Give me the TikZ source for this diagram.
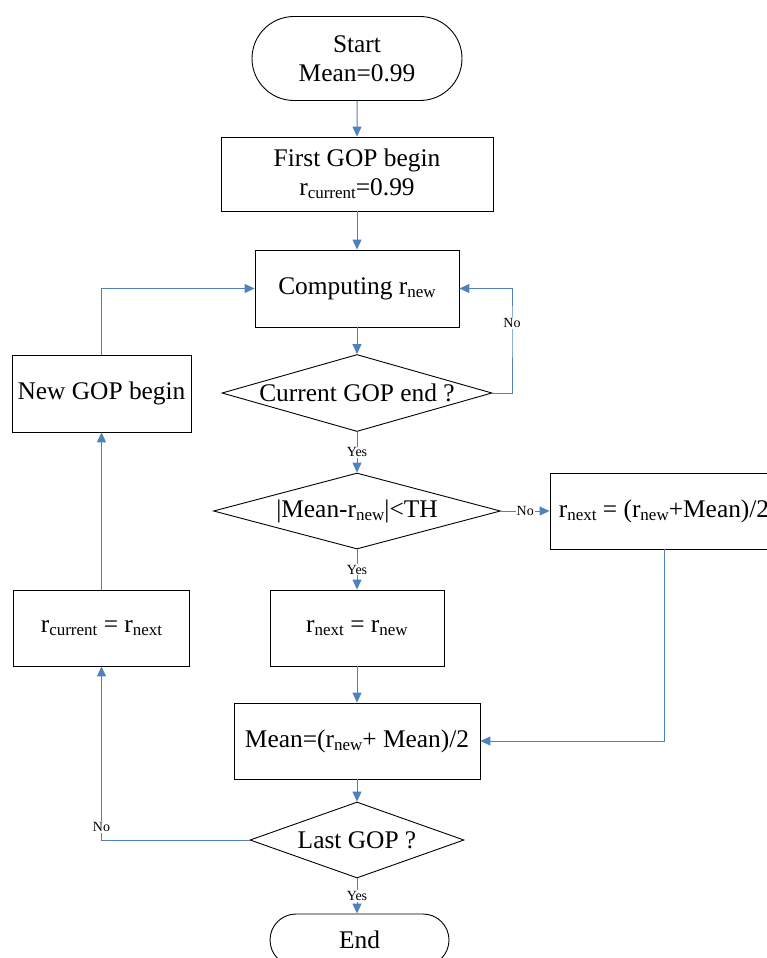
\documentclass[tikz,border=0pt]{standalone}
\usepackage{fontspec}
\setmainfont{Liberation Serif}
\usetikzlibrary{arrows.meta,shapes.geometric,shapes.misc}
\definecolor{linkblue}{RGB}{79,129,189}
\newcommand{\low}[1]{\raisebox{-3pt}{\fontsize{17}{17}\selectfont #1}}

\begin{document}
\begin{tikzpicture}[
		x=1pt, y=-1pt,
		font=\fontsize{25.4}{29}\selectfont,
		box/.style={rectangle,draw,line width=0.9pt,inner sep=0pt,align=center},
		terminal/.style={rounded rectangle,draw,line width=0.9pt,inner sep=0pt,align=center},
		decision/.style={diamond,draw,line width=0.9pt,inner sep=0pt,minimum height=77pt},
		link/.style={draw=linkblue,line width=1pt,-{Triangle[length=10pt,width=9pt]}},
		tag/.style={fill=white,inner sep=1pt,font=\fontsize{14}{14}\selectfont}
	]
	\useasboundingbox (0,0) rectangle (766,958);
	\node[terminal,minimum width=210pt,minimum height=84pt] (start) at (357,58.5) {Start\\Mean=0.99};
	\node[box,minimum width=272pt,minimum height=74pt] (first) at (357,174) {First GOP begin\\r\low{current}=0.99};
	\node[box,minimum width=204pt,minimum height=77pt] (comp) at (357,288.5) {Computing r\low{new}};
	\node[decision,minimum width=270pt,label=center:{Current GOP end ?}] (cend) at (357,393) {};
	\node[box,minimum width=179pt,minimum height=77pt] (newgop) at (101.5,393.5) {New GOP begin};
	\node[decision,minimum width=287pt,minimum height=76pt,label=center:{|Mean-r\low{new}|<TH}] (thr) at (357,511) {};
	\node[box,minimum width=228pt,minimum height=76pt] (rnext2) at (664,511) {r\low{next} = (r\low{new}+Mean)/2};
	\node[box,minimum width=174pt,minimum height=76pt] (rnext1) at (357,628) {r\low{next} = r\low{new}};
	\node[box,minimum width=176pt,minimum height=76pt] (rcur) at (101.5,628) {r\low{current} = r\low{next}};
	\node[box,minimum width=246pt,minimum height=76pt] (mean) at (357,741) {Mean=(r\low{new}+ Mean)/2};
	\node[decision,minimum width=214pt,minimum height=76pt,label=center:{Last GOP ?}] (last) at (357,840) {};
	\node[terminal,minimum width=179pt,minimum height=52pt] (end) at (359.5,940) {End};

	\draw[link] (start) -- (first);
	\draw[link] (first) -- (comp);
	\draw[link] (comp) -- (cend);
	\draw[link] (cend.east) -| (512,323) node[tag] {No} |- (comp.east);
	\draw[link] (cend) -- node[tag] {Yes} (thr);
	\draw[link] (thr.east) -- node[tag] {No} (rnext2.west);
	\draw[link] (thr) -- node[tag] {Yes} (rnext1);
	\draw[link] (rnext1) -- (mean);
	\draw[link] (rnext2.south) |- (mean.east);
	\draw[link] (mean) -- (last);
	\draw[link] (last.west) -- (rcur.south |- last.west) -- node[tag,pos=0.075] {No} (rcur.south);
	\draw[link] (rcur) -- (newgop);
	\draw[link] (newgop.north) |- (comp.west);
	\draw[link] (last) -- node[tag] {Yes} (last.south |- end.north);
\end{tikzpicture}
\end{document}
